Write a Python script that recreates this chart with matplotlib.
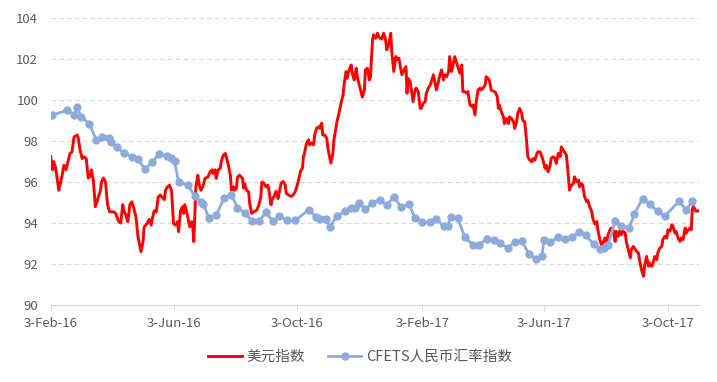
import pandas as pd
import matplotlib.pyplot as plt

plt.rcParams['font.family'] = ['Noto Sans CJK SC', 'DejaVu Sans']

start = pd.Timestamp('2016-02-03')

# 美元指数, days since 3-Feb-16
usd_day = [0, 2, 3, 5, 8, 11, 13, 15, 17, 19, 21, 23, 26, 27, 29, 31, 33, 35, 37, 39,
           40, 42, 44, 46, 49, 50, 52, 54, 56, 58, 62, 64, 67, 69, 71, 72, 74, 76, 78, 80,
           82, 84, 86, 89, 91, 92, 95, 97, 99, 100, 102, 104, 106, 108,
           109, 112, 113, 115, 117, 119, 121, 123, 125, 126, 128, 130, 131, 132, 134, 136,
           137, 139, 140, 141, 143, 145, 146, 148, 150, 152, 154, 155, 157, 159, 160, 162,
           163, 165, 167, 168, 170, 172, 173, 175, 177, 178, 180, 181, 183, 184, 186, 189,
           190, 191, 193, 195, 196, 198, 200, 203, 205, 207, 208, 210, 212, 214, 215,
           217, 218, 220, 222, 224, 225, 227, 229, 231, 232, 234, 237, 239, 241, 243, 245,
           246, 248, 249, 250, 252, 254, 255, 257, 259, 260, 262, 264, 265, 267, 268, 270,
           272, 273, 275, 276, 278, 279, 281, 282, 284, 286, 288, 289, 291, 292, 294, 296,
           297, 299, 301, 302, 304, 306, 307, 309, 310, 312, 314, 315, 317, 318, 320, 322, 323,
           326, 328, 330, 331, 333, 335, 336, 338, 340, 341, 343, 345, 346, 348, 350, 351,
           352, 354, 355, 357, 359, 360, 362, 364, 365, 367, 369, 370, 372, 374, 375, 377,
           378, 380, 382, 383, 385, 387, 388, 390, 392, 393, 395, 396, 398, 400, 401, 403,
           405, 406, 408, 410, 411, 413, 415, 416, 418, 419, 421, 423, 424, 426, 428, 429, 432,
           434, 438, 440, 441, 442, 444, 446, 447, 449, 451, 452, 454, 456, 457, 459, 460,
           462, 464, 465, 467, 469, 470, 472, 474, 475, 477, 479, 480, 482, 484, 485, 487,
           488, 490, 492, 493, 495, 497, 498, 500, 502, 503, 505, 507, 508, 510, 511, 513,
           515, 516, 518, 520, 521, 523, 524, 526, 528, 529, 531, 533, 534,
           536, 538, 539, 541, 543, 544, 546, 548, 549, 551, 552, 554, 556, 557, 559, 561,
           562, 564, 566, 567, 569, 571, 572, 574, 575, 577, 579, 580, 582, 584, 585, 587,
           589, 590, 592, 593, 595, 597, 598, 600, 602, 603, 605, 607, 608, 610, 612, 613,
           615, 616, 618, 620, 621, 623, 625, 626, 628, 630, 631, 632, 633, 635, 636, 638]
usd_val = [97.24, 96.6, 97.0, 96.67, 95.6, 96.26, 96.83, 96.6, 97.0, 97.4,
           97.48, 98.2, 98.3, 98.2, 97.56, 97.15, 97.24, 97.15, 96.2, 96.3,
           96.6, 96.1, 94.8, 95.1, 95.6, 96.0, 96.2, 96.0, 94.9, 94.55,
           94.55, 94.47, 94.07, 94.0, 94.9, 94.6, 94.4, 94.07, 94.9, 95.04,
           94.7, 94.3, 93.33, 92.6, 93.1, 93.8, 93.98, 94.18, 93.9, 94.2,
           94.6, 94.55, 95.28, 95.37,
           95.3, 95.15, 95.6, 95.77, 95.85, 95.6, 93.98, 93.9, 94.07, 93.58,
           94.63, 94.8, 94.47, 94.9, 94.55, 94.07, 93.82, 94.07, 93.82, 93.1,
           95.77, 96.34, 95.93, 95.6, 95.77, 96.18, 96.23, 96.26, 96.5, 96.6,
           96.42, 96.6, 96.18, 96.6, 96.67, 97.0, 97.3, 97.4, 97.24, 96.83,
           96.34, 95.6, 95.77, 95.6, 95.7, 96.23, 96.34, 96.18, 95.7, 95.93,
           95.6, 95.53, 94.96, 94.47, 94.55, 94.63, 94.88, 95.28, 96.0, 95.96,
           95.77, 95.85, 95.6,
           94.9, 95.14, 95.3, 95.55, 95.2, 95.46, 95.95, 96.03, 95.87, 95.46,
           95.38, 95.3, 95.38, 95.55, 95.87, 96.28, 96.52, 96.68, 97.25, 97.41,
           97.9, 98.07, 97.82, 97.9, 97.82, 98.3, 98.63, 98.7, 98.63, 98.88,
           98.3, 98.3, 98.14, 97.66, 97.17, 96.93, 97.41, 98.07, 98.63, 98.96,
           99.37, 99.85, 100.26, 100.75, 101.4, 101.07, 101.48, 101.72, 101.32, 100.99,
           101.56, 101.15, 100.75, 100.34, 100.15, 100.5, 101.48, 101.56, 100.99, 101.15,
           102.94, 103.19, 103.02, 103.27, 103.1,
           102.98, 103.27, 102.94, 102.46, 102.7, 103.27, 102.37, 101.4, 102.13, 101.97,
           102.05, 101.48, 101.24, 101.48, 101.64, 100.34, 101.07, 100.91, 100.59, 99.93,
           100.5, 100.59, 100.42, 99.6, 99.6, 99.85, 99.93, 100.34, 100.59, 100.75,
           100.91, 101.24, 100.99, 100.5, 100.91, 101.15, 101.48, 100.99, 101.24, 101.15,
           101.4, 102.13, 101.4, 101.64, 102.13, 101.8, 101.64, 101.32, 101.72, 100.42,
           100.42, 100.34, 100.42, 99.77, 99.69, 99.77, 99.28, 99.85, 100.5, 100.59,
           100.5, 100.59, 100.75, 101.15, 100.99,
           100.49, 100.4, 100.16, 99.6, 99.76, 99.43, 99.19, 98.86, 99.1, 98.86,
           99.19, 99.1, 98.94, 98.62, 98.94, 99.35, 99.6, 99.35, 99.02, 98.94,
           97.89, 97.24, 97.07, 96.99, 97.15, 97.07, 97.4, 97.48, 97.48, 97.24,
           97.07, 96.67, 96.83, 96.5, 96.83, 97.15, 97.24, 97.15, 96.91, 97.4,
           97.24, 97.72, 97.56, 97.4, 97.32, 96.26, 95.61, 95.85, 95.93, 96.26,
           96.02, 96.1, 95.77, 95.93, 95.85, 95.28, 95.04, 95.12, 94.8, 94.55,
           94.23,
           93.95, 94.08, 93.67, 93.19, 92.86, 93.02, 93.27, 92.94, 93.43, 93.67,
           93.76, 93.67, 93.1, 93.6, 93.35, 93.67, 93.43, 93.6, 93.51, 93.1,
           92.7, 92.3, 92.7, 92.86, 92.78, 92.62, 92.54, 92.21, 91.72, 91.4,
           91.89, 92.37, 91.89, 92.05, 91.89, 91.97, 92.37, 92.21, 92.54, 92.78,
           92.86, 93.19, 93.35, 93.27, 93.67, 93.6, 93.92, 93.84, 93.51, 93.6,
           93.27, 93.1, 93.27, 93.19, 93.76, 93.51, 93.67, 93.76, 93.67, 94.65,
           94.81, 94.65, 94.57, 94.6]

# CFETS人民币汇率指数 (weekly), days since 3-Feb-16
cfets_day = [1, 16, 23, 26, 30, 38, 45, 51, 57, 59, 65, 72, 80, 86, 93, 100, 107, 115, 119, 122,
             126, 135, 142, 148, 150, 156, 163, 171, 178, 184, 191, 198, 205, 212, 219, 225,
             233, 241, 254, 261, 265, 271, 275, 282, 290, 296, 300, 304, 310, 317, 324, 331,
             338, 345, 353, 359, 366, 374, 380, 387, 391, 394, 401, 408, 416, 422, 430, 437,
             443, 450, 457, 464, 471, 478, 484, 486, 492, 500, 507, 514, 520, 527, 535, 541,
             545, 549, 556, 562, 570, 575, 583, 590, 598, 605, 619, 626, 632]
cfets_val = [99.27, 99.5, 99.3, 99.67, 99.2, 98.85, 98.04, 98.22, 98.17, 97.98,
             97.7, 97.43, 97.25, 97.12, 96.63, 96.99, 97.39, 97.27, 97.19, 97.01,
             96.01, 95.85, 95.31, 95.05, 94.95, 94.24, 94.4, 95.22, 95.38, 94.76,
             94.5, 94.12, 94.08, 94.52, 94.08, 94.33, 94.13, 94.13, 94.65, 94.32,
             94.2, 94.2, 93.82, 94.36, 94.57, 94.73, 94.73, 94.98, 94.67, 95.0,
             95.15, 94.86, 95.29, 94.79, 94.92, 94.24, 94.04, 94.03, 94.18, 93.86,
             93.86, 94.32, 94.24, 93.3, 92.94, 92.94, 93.24, 93.15, 93.02, 92.79,
             93.07, 93.11, 92.51, 92.25, 92.4, 93.18, 93.08, 93.3, 93.22, 93.34,
             93.55, 93.4, 92.96, 92.72, 92.76, 92.94, 94.08, 93.84, 93.77, 94.45,
             95.19, 94.91, 94.58, 94.35, 95.06, 94.65, 95.06]

tick_dates = ['2016-02-03', '2016-06-03', '2016-10-03', '2017-02-03', '2017-06-03', '2017-10-03']
tick_labels = ['3-Feb-16', '3-Jun-16', '3-Oct-16', '3-Feb-17', '3-Jun-17', '3-Oct-17']

usd_dates = start + pd.to_timedelta(usd_day, unit='D')
cfets_dates = start + pd.to_timedelta(cfets_day, unit='D')

fig = plt.figure(figsize=(7.17, 3.82), dpi=100)
ax = fig.add_axes([0.0707, 0.2016, 0.904, 0.7505])

ax.plot(usd_dates, usd_val, color='#ff0000', lw=2.1, label='美元指数', zorder=3)
ax.plot(cfets_dates, cfets_val, color='#8eaadb', lw=2.0, marker='o', ms=5,
        label='CFETS人民币汇率指数', zorder=4)

ax.set_ylim(90, 104)
ax.set_yticks(range(90, 105, 2))
ax.set_xlim(start, start + pd.Timedelta(days=638.5))
ax.set_xticks(pd.to_datetime(tick_dates))
ax.set_xticklabels(tick_labels)

ax.grid(axis='y', color='#d9d9d9', linestyle=(0, (4, 3)), lw=0.8)
ax.set_axisbelow(True)
for s in ['top', 'right', 'left']:
    ax.spines[s].set_visible(False)
ax.spines['bottom'].set_color('#d9d9d9')
ax.tick_params(axis='y', length=0, pad=9, labelsize=9.5, labelcolor='#595959')
ax.tick_params(axis='x', length=4, color='#d9d9d9', pad=5, labelsize=9.5, labelcolor='#595959')

fig.legend(loc='center', bbox_to_anchor=(0.502, 0.066), ncol=2, frameon=False,
           fontsize=10.5, handlelength=2.3, columnspacing=1.6, handletextpad=0.3,
           labelcolor='#595959')

fig.savefig('out.png', dpi=100)
